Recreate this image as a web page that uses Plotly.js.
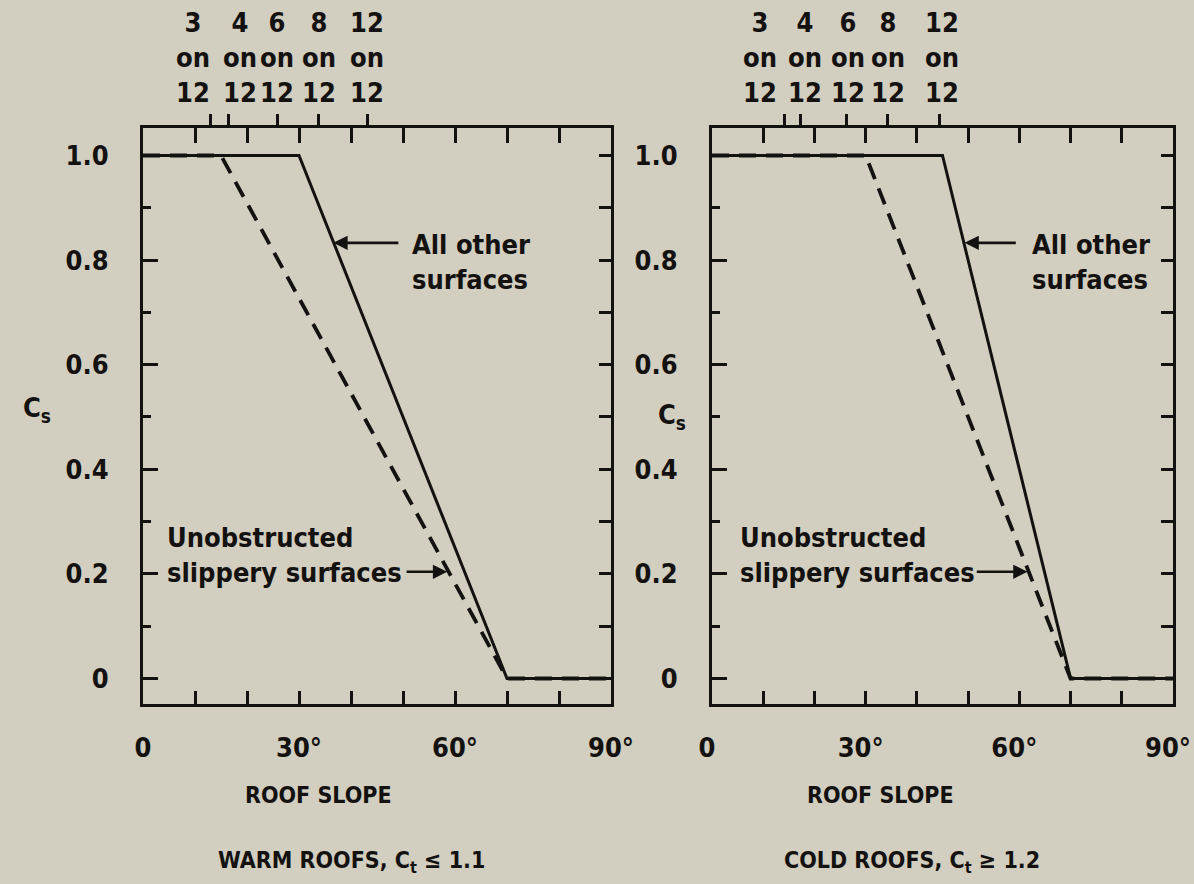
<!DOCTYPE html>
<html>
<head>
<meta charset="utf-8">
<script src="https://cdn.plot.ly/plotly-3.0.1.min.js"></script>
<style>
html,body{margin:0;padding:0;background:#d2cec0;}
#chart{width:1194px;height:884px;}
</style>
</head>
<body>
<div id="chart"></div>
<script>
// ---- data ----
const warmOtherSlope = [0, 30, 70, 90];
const warmOtherCs    = [1.0, 1.0, 0, 0];
const warmSlipSlope  = [0, 15, 70, 90];
const warmSlipCs     = [1.0, 1.0, 0, 0];
const coldOtherSlope = [0, 45, 70, 90];
const coldOtherCs    = [1.0, 1.0, 0, 0];
const coldSlipSlope  = [0, 30, 70, 90];
const coldSlipCs     = [1.0, 1.0, 0, 0];

const pitchRise       = ['3', '4', '6', '8', '12'];
const pitchAngleWarm  = [12.9, 16.5, 25.8, 33.7, 43.1];
const pitchAngleCold  = [14.1, 17.2, 26.2, 34.2, 44.5];

const yTickVals = [0, 0.2, 0.4, 0.6, 0.8, 1.0];
const yTickText = ['0', '0.2', '0.4', '0.6', '0.8', '1.0'];
const xTickVals = [0, 30, 60, 90];
const xTickText = ['0', '30°', '60°', '90°'];

const panelTitles = ['WARM ROOFS, C<sub>t</sub> ≤ 1.1', 'COLD ROOFS, C<sub>t</sub> ≥ 1.2'];
const xTitle = 'ROOF SLOPE';
const yTitle = 'C<sub>s</sub>';
const labelOther = 'All other<br>surfaces';
const labelSlip = 'Unobstructed<br>slippery surfaces';

// ---- styling ----
const INK = '#141210';
const BG = '#d2cec0';
const FAM = '"Liberation Sans Narrow", "DejaVu Sans Condensed", "Arial Narrow", sans-serif';
const FS = 27;
const font = {family: FAM, size: FS, color: INK, weight: 700};
const capsFont = {family: FAM, size: 23, color: INK, weight: 700};
const W = 1194, H = 884;
const yRange = [-0.0488, 1.0526];
const yDom = [1 - 704 / H, 1 - 128 / H];
const xDom1 = [143 / W, 611 / W];
const xDom2 = [712 / W, 1173 / W];

function lineTrace(x, y, xa, ya, dashed) {
  return {
    x: x, y: y, xaxis: xa, yaxis: ya, type: 'scatter', mode: 'lines',
    line: {color: INK, width: dashed ? 3.8 : 3, dash: dashed ? '17px,10px' : 'solid'},
    hoverinfo: 'skip', showlegend: false
  };
}
function dummy(xa, ya) {
  return {x: [], y: [], xaxis: xa, yaxis: ya, type: 'scatter', mode: 'lines', showlegend: false, hoverinfo: 'skip'};
}

const data = [
  lineTrace(warmOtherSlope, warmOtherCs, 'x', 'y', false),
  lineTrace(warmSlipSlope, warmSlipCs, 'x', 'y', true),
  lineTrace(coldOtherSlope, coldOtherCs, 'x2', 'y2', false),
  lineTrace(coldSlipSlope, coldSlipCs, 'x2', 'y2', true),
  dummy('x3', 'y'), dummy('x5', 'y'), dummy('x', 'y3'),
  dummy('x4', 'y2'), dummy('x6', 'y2'), dummy('x2', 'y4')
];

function bottomAxis(dom, anchor, shift) {
  return {
    domain: dom, anchor: anchor, range: [0, 90], fixedrange: true,
    tickmode: 'array', tickvals: xTickVals, ticktext: xTickText,
    ticks: 'inside', ticklen: 13, tickwidth: 3, tickcolor: INK,
    minor: {tickmode: 'linear', tick0: 0, dtick: 10, ticks: 'inside', ticklen: 13, tickwidth: 3, tickcolor: INK},
    showline: true, linewidth: 3, linecolor: INK, showgrid: false, zeroline: false,
    tickfont: font, ticklabelstandoff: 18, ticklabeloverflow: 'allow', ticklabelshift: shift
  };
}
function leftAxis(anchor) {
  return {
    domain: yDom, anchor: anchor, range: yRange, fixedrange: true,
    tickmode: 'array', tickvals: yTickVals, ticktext: yTickText,
    ticks: 'inside', ticklen: 15, tickwidth: 3, tickcolor: INK,
    minor: {tickmode: 'linear', tick0: 0, dtick: 0.1, ticks: 'inside', ticklen: 8, tickwidth: 3, tickcolor: INK},
    showline: true, linewidth: 3, linecolor: INK, showgrid: false, zeroline: false,
    tickfont: font, ticklabelstandoff: 26, ticklabeloverflow: 'allow'
  };
}
function topInside(over, anchor) {
  return {
    overlaying: over, anchor: anchor, side: 'top', range: [0, 90], fixedrange: true,
    tickmode: 'linear', tick0: 0, dtick: 10, ticks: 'inside', ticklen: 15, tickwidth: 3, tickcolor: INK,
    showticklabels: false, showline: true, linewidth: 3, linecolor: INK, showgrid: false, zeroline: false
  };
}
function topPitch(over, anchor, vals) {
  return {
    overlaying: over, anchor: anchor, side: 'top', range: [0, 90], fixedrange: true,
    tickmode: 'array', tickvals: vals, ticks: 'outside', ticklen: 13, tickwidth: 3, tickcolor: INK,
    showticklabels: false, showline: false, showgrid: false, zeroline: false
  };
}
function rightAxis(over, anchor) {
  return {
    overlaying: over, anchor: anchor, side: 'right', range: yRange, fixedrange: true,
    tickmode: 'linear', tick0: 0, dtick: 0.1, ticks: 'inside', ticklen: 12, tickwidth: 3, tickcolor: INK,
    showticklabels: false, showline: true, linewidth: 3, linecolor: INK, showgrid: false, zeroline: false
  };
}

const annotations = [];
function txt(text, x, y, xref, yref, xanchor, yanchor, align, f) {
  annotations.push({text: text, x: x, y: y, xref: xref, yref: yref, xanchor: xanchor, yanchor: yanchor,
    align: align || 'center', showarrow: false, font: f || font});
}
function arrow(xref, yref, xTip, yTip, xTail, yTail) {
  annotations.push({text: '', x: xTip, y: yTip, ax: xTail, ay: yTail, xref: xref, yref: yref,
    axref: xref, ayref: yref, showarrow: true, arrowhead: 2, arrowsize: 1.1, arrowwidth: 2.6,
    arrowcolor: INK, standoff: 0, startstandoff: 0});
}

// pitch labels on top
const pitchLabelWarm = [9.6, 18.7, 25.8, 33.8, 43.1];
const pitchLabelCold = [9.4, 18.2, 26.6, 34.4, 44.9];
pitchRise.forEach((r, i) => {
  txt(r + '<br>on<br>12', pitchLabelWarm[i], 1 - 58 / H, 'x', 'paper', 'center', 'middle');
  txt(r + '<br>on<br>12', pitchLabelCold[i], 1 - 58 / H, 'x2', 'paper', 'center', 'middle');
});

// Cs labels
txt(yTitle, 37 / W, 0.515, 'paper', 'y', 'center', 'middle');
txt(yTitle, 672 / W, 0.5, 'paper', 'y2', 'center', 'middle');

// curve labels and arrows
txt(labelOther, 51.3, 0.796, 'x', 'y', 'left', 'middle', 'left');
arrow('x', 'y', 36.6, 0.833, 49.4, 0.833);
txt(labelOther, 62, 0.796, 'x2', 'y2', 'left', 'middle', 'left');
arrow('x2', 'y2', 49.3, 0.833, 59.6, 0.833);

txt(labelSlip, 4.2, 0.237, 'x', 'y', 'left', 'middle', 'left');
arrow('x', 'y', 58.5, 0.204, 50.4, 0.204);
txt(labelSlip, 5.0, 0.237, 'x2', 'y2', 'left', 'middle', 'left');
arrow('x2', 'y2', 61.6, 0.204, 51.4, 0.204);

// bottom titles
txt(xTitle, 318 / W, 1 - 795 / H, 'paper', 'paper', 'center', 'middle', 'center', capsFont);
txt(xTitle, 880 / W, 1 - 795 / H, 'paper', 'paper', 'center', 'middle', 'center', capsFont);
txt(panelTitles[0], 351 / W, 1 - 862 / H, 'paper', 'paper', 'center', 'middle', 'center', capsFont);
txt(panelTitles[1], 912 / W, 1 - 862 / H, 'paper', 'paper', 'center', 'middle', 'center', capsFont);

const layout = {
  width: W, height: H,
  margin: {l: 0, r: 0, t: 0, b: 0},
  paper_bgcolor: BG, plot_bgcolor: BG,
  showlegend: false,
  font: font,
  xaxis: bottomAxis(xDom1, 'y', 0),
  xaxis2: bottomAxis(xDom2, 'y2', -5),
  yaxis: leftAxis('x'),
  yaxis2: leftAxis('x2'),
  xaxis3: topInside('x', 'y'),
  xaxis4: topInside('x2', 'y2'),
  xaxis5: topPitch('x', 'y', pitchAngleWarm),
  xaxis6: topPitch('x2', 'y2', pitchAngleCold),
  yaxis3: rightAxis('y', 'x'),
  yaxis4: rightAxis('y2', 'x2'),
  annotations: annotations
};

Plotly.newPlot('chart', data, layout, {staticPlot: true, displayModeBar: false});
</script>
</body>
</html>
